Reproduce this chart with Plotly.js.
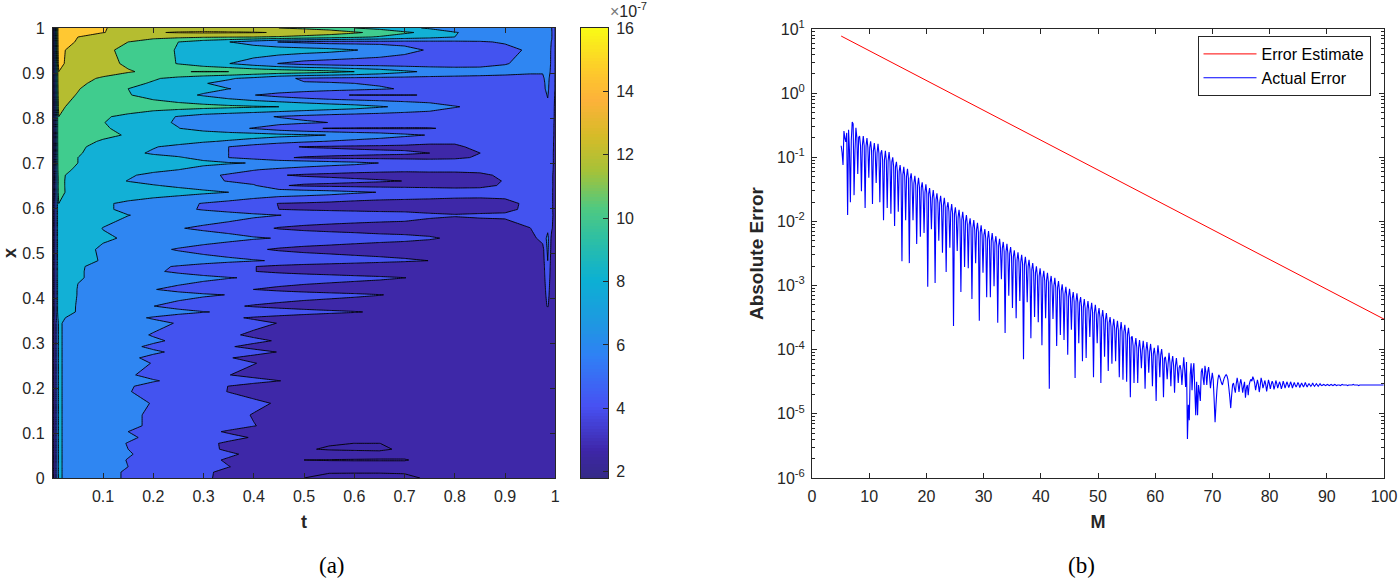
<!DOCTYPE html>
<html><head><meta charset="utf-8">
<script src="https://cdn.plot.ly/plotly-3.0.1.min.js"></script>
<style>html,body{margin:0;padding:0;background:#fff}#chart{width:1399px;height:578px}</style>
</head><body><div id="chart"></div>
<script>
// ---------- panel (a): surface values in units of 1e-7 ----------
const contourT=[0,.012,.025,.05,.1,.15,.2,.25,.3,.35,.4,.45,.5,.55,.6,.65,.7,.75,.8,.85,.9,.95,.975,.985,.993,1];
const contourX=[0,.013,.025,.04,.053,.064,.077,.09,.103,.116,.14,.166,.192,.204,.216,.229,.255,.267,.28,.292,.305,.318,.344,.356,.369,.382,.407,.419,.445,.459,.47,.483,.508,.533,.555,.584,.597,.61,.635,.65,.66,.673,.685,.70,.712,.722,.736,.748,.762,.777,.79,.803,.825,.851,.865,.877,.888,.903,.921,.951,.969,.98,.99,1];
const contourZ=[
[1,8.4,7.6,7.0,6.4,5.84,5.28,4.73,4.17,3.7,3.2,2.7,2.0,1.92,1.9,1.9,1.92,2.05,2.3,2.4,2.5,2.6,2.6,2.6,2.5,2.3],
[1,8.4,7.6,7.0,6.4,5.84,5.3,4.75,4.2,3.7,3.25,2.75,2.15,2.02,2.02,2.02,2.03,2.1,2.3,2.4,2.5,2.6,2.6,2.6,2.5,2.3],
[1,8.4,7.6,7.2,6.6,6.0,5.5,5.0,4.5,4.03,3.6,3.1,2.5,2.2,2.15,2.15,2.15,2.2,2.35,2.45,2.55,2.65,2.7,2.7,2.5,2.3],
[1,8.4,7.6,7.1,6.5,5.95,5.45,4.9,4.35,3.85,3.35,2.8,2.0,1.98,1.98,1.98,1.98,2.1,2.3,2.4,2.5,2.6,2.65,2.7,2.5,2.3],
[1,8.4,7.6,7.2,6.7,6.1,5.6,5.1,4.65,4.2,3.7,3.2,2.7,2.3,2.15,2.1,2.1,2.2,2.35,2.45,2.55,2.65,2.7,2.7,2.5,2.3],
[1,8.4,7.6,7.1,6.6,6.0,5.45,4.9,4.35,3.8,3.3,2.8,2.05,1.95,1.95,1.95,2.05,2.15,2.3,2.4,2.5,2.6,2.65,2.7,2.5,2.3],
[1,8.4,7.6,7.1,6.5,5.95,5.4,4.85,4.3,3.8,3.35,2.9,2.3,2.04,1.998,1.998,2.06,2.2,2.35,2.45,2.55,2.65,2.7,2.7,2.5,2.3],
[1,8.4,7.6,7.3,6.75,6.2,5.7,5.25,4.8,4.35,3.9,3.5,3.1,2.7,2.4,2.3,2.3,2.3,2.4,2.5,2.6,2.7,2.75,2.8,2.6,2.3],
[1,8.4,7.6,7.1,6.5,6.0,5.45,4.9,4.35,3.85,3.4,2.95,2.6,2.4,2.3,2.25,2.25,2.3,2.4,2.5,2.6,2.7,2.75,2.8,2.6,2.3],
[1,8.4,7.6,7.2,6.7,6.25,5.8,5.36,4.92,4.48,4.04,3.65,3.2,2.8,2.5,2.35,2.3,2.3,2.4,2.5,2.6,2.7,2.75,2.8,2.6,2.3],
[1,8.4,7.6,7.2,6.7,6.25,5.8,5.3,4.85,4.4,3.93,3.5,3.1,2.7,2.45,2.35,2.3,2.3,2.4,2.5,2.6,2.7,2.75,2.8,2.6,2.3],
[1,8.4,7.6,7.3,6.9,6.4,5.93,5.5,5.1,4.7,4.3,3.85,3.4,3.0,2.6,2.4,2.3,2.3,2.4,2.5,2.6,2.7,2.75,2.8,2.6,2.3],
[1,8.4,7.6,7.3,6.6,6.07,5.55,5.0,4.5,3.96,3.5,3.0,2.7,2.5,2.35,2.3,2.25,2.3,2.4,2.5,2.6,2.7,2.75,2.8,2.6,2.3],
[1,8.4,7.6,7.3,6.7,6.13,5.6,5.05,4.55,3.98,3.5,3.0,2.7,2.5,2.35,2.3,2.25,2.3,2.4,2.5,2.6,2.7,2.75,2.8,2.6,2.3],
[1,8.4,7.6,7.4,7.0,6.55,6.1,5.7,5.25,4.85,4.45,4.03,3.6,3.2,2.8,2.5,2.35,2.3,2.4,2.5,2.6,2.7,2.75,2.8,2.6,2.3],
[1,8.4,7.6,7.3,6.7,6.15,5.65,5.1,4.55,4.03,3.6,3.15,2.8,2.55,2.4,2.3,2.25,2.3,2.4,2.5,2.6,2.7,2.75,2.8,2.6,2.3],
[1,8.4,7.6,7.4,6.9,6.4,5.95,5.45,5.0,4.5,4.05,3.6,3.2,2.85,2.6,2.4,2.3,2.3,2.4,2.5,2.6,2.7,2.75,2.8,2.6,2.3],
[1,8.4,7.6,7.3,6.8,6.25,5.7,5.15,4.6,4.08,3.6,3.1,2.8,2.55,2.4,2.3,2.25,2.3,2.4,2.5,2.6,2.7,2.75,2.8,2.6,2.3],
[1,8.4,7.6,7.4,7.0,6.65,6.2,5.75,5.3,4.85,4.45,3.95,3.5,3.1,2.8,2.5,2.35,2.3,2.4,2.5,2.6,2.7,2.75,2.8,2.6,2.3],
[1,8.4,7.6,7.3,6.8,6.3,5.75,5.2,4.65,4.13,3.6,3.1,2.8,2.55,2.4,2.3,2.25,2.3,2.4,2.5,2.6,2.7,2.75,2.8,2.6,2.3],
[1,8.4,7.6,7.4,7.0,6.65,6.22,5.75,5.3,4.8,4.35,3.85,3.4,3.0,2.7,2.5,2.35,2.3,2.4,2.5,2.6,2.7,2.75,2.8,2.6,2.3],
[1,8.4,7.6,7.4,6.9,6.45,5.9,5.35,4.85,4.27,3.7,3.2,2.9,2.65,2.45,2.35,2.3,2.3,2.4,2.5,2.6,2.7,2.75,2.8,2.6,2.3],
[1,8.4,7.6,7.4,7.1,6.8,6.4,5.9,5.4,4.95,4.45,3.95,3.5,3.1,2.8,2.5,2.35,2.3,2.4,2.5,2.6,2.7,2.75,2.8,2.6,2.3],
[1,9.2,8.0,7.4,6.9,6.4,5.85,5.35,4.85,4.3,3.8,3.4,3.0,2.7,2.5,2.4,2.3,2.3,2.4,2.5,2.6,2.7,2.75,2.8,2.6,2.3],
[1,9.7,8.4,7.9,7.5,7.1,6.8,6.45,6.08,5.75,5.45,5.1,4.8,4.45,4.15,3.7,3.2,2.8,2.4,2.5,2.6,2.7,2.75,3.0,2.6,2.3],
[1,9.7,8.9,7.8,7.1,6.6,6.02,5.5,4.9,4.35,3.8,3.4,3.0,2.75,2.55,2.45,2.4,2.4,2.45,2.55,2.65,2.8,3.0,4.2,2.8,2.4],
[1,9.7,9.2,7.9,7.55,7.2,6.9,6.55,6.25,5.95,5.65,5.3,5.0,4.7,4.4,4.08,3.6,3.1,2.7,2.6,2.7,2.85,3.0,4.6,2.8,2.4],
[1,9.7,9.3,7.9,7.2,6.65,6.07,5.55,5.0,4.5,3.99,3.5,3.1,2.85,2.7,2.55,2.45,2.45,2.5,2.6,2.7,2.85,3.0,4.8,2.8,2.4],
[1,9.7,9.5,8.1,7.7,7.4,7.1,6.8,6.45,6.1,5.8,5.5,5.2,4.9,4.6,4.35,4.03,3.5,3.0,2.7,2.75,2.9,3.1,5.2,2.9,2.4],
[1,9.7,9.6,8.2,7.4,6.9,6.25,5.7,5.2,4.6,4.05,3.55,3.2,3.0,2.8,2.65,2.55,2.5,2.55,2.65,2.75,2.9,3.1,5.5,2.9,2.4],
[1,9.7,9.6,8.2,7.5,7.0,6.35,5.85,5.3,4.7,4.05,3.55,3.2,3.0,2.8,2.65,2.55,2.5,2.55,2.65,2.75,2.9,3.1,5.7,2.9,2.4],
[1,9.8,9.6,8.8,7.8,7.6,7.3,7.05,6.8,6.5,6.15,5.8,5.5,5.2,4.9,4.6,4.3,3.98,3.4,2.9,2.8,2.95,3.2,6.0,3.0,2.4],
[1,9.8,9.6,8.7,7.7,7.2,6.4,5.85,5.35,4.8,4.3,3.75,3.4,3.2,3.0,2.9,2.8,2.7,2.7,2.75,2.8,3.0,3.4,6.4,3.2,2.5],
[1,9.8,9.6,9.0,8.25,7.8,7.5,7.2,6.9,6.6,6.2,5.9,5.6,5.3,5.0,4.7,4.5,4.2,3.7,3.3,3.1,3.4,4.6,6.6,3.4,2.6],
[1,9.8,9.6,9.1,7.95,7.4,6.8,6.1,5.7,5.3,4.6,3.85,3.5,3.3,3.2,3.1,3.1,3.1,3.2,3.3,3.5,3.98,4.5,5.5,4.2,3.0],
[1,9.8,9.6,9.4,8.7,8.03,7.7,7.35,7.0,6.7,6.35,6.02,5.8,5.5,5.2,5.0,4.8,4.3,4.1,4.2,4.2,4.5,4.8,5.5,4.4,3.2],
[1,9.8,9.6,9.3,8.3,7.6,7.0,6.4,5.85,5.4,4.9,4.0,3.75,3.6,3.5,3.4,3.4,3.4,3.4,3.5,3.7,4.3,4.6,4.8,4.3,3.2],
[1,10.0,9.7,9.5,8.3,7.6,7.0,6.5,5.9,5.4,4.7,3.95,3.8,3.6,3.3,3.1,3.1,3.1,3.1,3.2,3.5,4.4,4.6,4.8,4.3,3.2],
[1,11.0,9.95,9.8,9.6,9.3,9.0,8.7,8.35,8.0,7.6,7.3,7.0,6.7,6.3,5.95,5.6,5.3,5.0,4.8,4.7,4.9,5.1,5.0,4.3,3.2],
[1,11.0,9.9,9.6,9.0,8.5,8.1,7.7,7.3,6.8,6.2,4.2,3.7,3.6,3.5,3.4,3.4,3.4,3.4,3.6,4.2,4.7,4.9,4.9,4.3,3.3],
[1,11.0,9.9,9.5,8.6,7.95,7.5,7.0,6.5,5.9,5.3,5.0,4.75,4.5,4.3,4.15,3.98,3.6,3.5,3.7,4.05,4.6,4.9,4.9,4.3,3.3],
[1,11.2,10.0,9.6,8.8,8.2,7.6,7.1,6.4,5.8,5.2,4.1,3.8,3.7,3.6,3.5,3.5,3.6,3.6,3.7,4.3,4.8,5.0,5.0,4.3,3.3],
[1,11.5,10.2,9.8,9.2,8.8,8.4,8.0,7.3,6.7,6.1,5.6,5.1,4.7,4.5,4.4,4.3,4.3,4.3,4.4,4.6,4.9,5.0,5.0,4.4,3.4],
[1,11.7,10.6,10.0,9.5,9.25,9.0,8.75,8.5,8.2,7.9,7.6,7.3,6.9,6.5,5.98,5.5,5.2,5.0,4.9,4.9,5.1,5.2,5.1,4.5,3.4],
[1,11.7,10.7,10.0,9.3,8.9,8.5,8.2,7.4,6.0,5.3,4.3,3.8,3.6,3.5,3.5,3.5,3.5,3.7,4.2,4.8,5.1,5.2,5.1,4.5,3.4],
[1,11.8,10.9,10.2,9.1,8.4,7.8,7.3,6.6,6.0,5.6,5.2,4.9,4.7,4.5,4.3,4.2,4.0,3.7,3.99,4.7,5.1,5.2,5.1,4.5,3.4],
[1,11.8,11.0,10.3,9.4,8.8,8.1,7.6,6.9,6.0,5.2,4.4,3.9,3.8,3.7,3.7,3.7,3.7,3.8,4.3,4.9,5.2,5.3,5.2,4.5,3.5],
[1,11.9,11.2,10.6,9.8,9.4,9.0,8.6,8.2,7.8,7.3,6.8,6.3,5.9,5.5,5.1,4.7,4.3,4.2,4.4,4.9,5.2,5.3,5.2,4.5,3.5],
[1,11.9,11.4,11.0,10.4,9.85,9.6,9.4,9.2,9.0,8.8,8.5,8.3,7.95,7.4,7.0,6.4,5.9,5.4,5.2,5.1,5.3,5.5,5.4,4.6,3.6],
[1,11.95,11.4,11.0,10.2,9.5,8.9,8.05,7.2,6.5,5.9,5.0,4.3,3.9,3.85,3.85,3.85,3.9,4.3,4.8,5.0,5.3,5.5,5.5,4.6,3.6],
[1,11.95,11.5,11.2,10.05,9.4,8.5,7.8,7.4,7.2,6.9,6.6,6.3,5.98,5.7,5.4,5.1,4.9,4.8,4.8,5.0,5.3,5.5,5.6,4.7,3.6],
[1,12.0,11.6,11.3,10.2,9.6,8.7,7.9,7.2,6.8,6.4,5.9,5.5,5.2,5.0,4.9,4.8,4.8,4.9,5.0,5.1,5.3,5.5,5.6,4.7,3.7],
[1,12.8,12.0,11.6,11.2,11.0,10.9,10.8,10.6,10.4,10.2,10.0,9.6,9.2,8.8,8.2,7.6,7.0,6.1,5.6,5.4,5.5,5.5,5.7,4.8,3.7],
[1,13.3,12.4,11.9,10.8,10.1,9.4,8.6,7.8,6.9,6.05,5.3,4.7,4.2,3.95,3.95,3.95,4.05,4.5,5.0,5.3,5.5,5.5,6.1,4.9,3.8],
[1,13.5,12.6,12.1,11.0,10.0,9.6,9.0,8.6,8.03,7.7,7.4,7.1,6.8,6.5,6.2,5.85,5.6,5.4,5.3,5.4,5.5,5.7,6.3,5.0,3.9],
[1,13.7,12.9,12.3,11.5,10.5,9.8,9.0,8.1,7.5,6.9,6.3,6.1,6.1,6.0,5.8,5.6,5.5,5.4,5.3,5.3,5.5,5.7,6.4,5.0,3.9],
[1,13.8,13.0,12.5,11.8,11.0,10.2,9.5,8.8,8.2,7.5,6.4,5.8,5.6,5.5,5.4,5.4,5.4,5.4,5.4,5.4,5.6,5.8,6.5,5.1,3.9],
[1,14.0,13.5,13.2,12.6,12.15,11.6,11.9,12.1,12.0,11.6,11.3,11.0,10.6,10.0,9.3,8.4,7.6,7.2,6.9,6.6,6.2,6.1,6.6,5.6,3.9],
[1,15.0,13.8,13.2,12.6,11.7,10.9,9.9,8.9,8.05,7.0,5.95,5.3,5.0,4.8,4.8,4.8,4.9,5.0,5.3,5.9,6.5,6.6,6.5,5.8,3.9],
[1,15.5,14.0,13.6,12.5,11.4,10.5,9.9,9.7,9.5,9.4,9.2,8.9,8.6,8.1,7.4,6.6,5.8,5.3,5.2,5.4,6.3,6.7,6.6,5.8,3.9],
[1,15.7,14.6,13.8,13.0,12.0,10.8,10.0,9.0,8.05,7.0,5.95,5.6,5.3,5.3,5.4,5.4,5.5,5.6,5.8,6.2,6.7,6.8,6.7,5.9,3.9],
[1,15.9,15.0,14.0,13.4,13.0,12.7,12.4,12.2,12.1,12.0,11.8,11.3,10.9,10.4,9.8,9.1,8.6,8.0,7.4,7.2,7.0,7.0,6.9,6.1,3.9],
[1,16.0,15.3,14.6,14.03,13.7,13.9,14.1,14.2,14.15,14.1,13.9,13.6,13.0,12.3,11.4,10.3,9.5,8.1,7.4,7.2,7.0,7.0,6.9,6.1,3.9],
[1,16.0,15.5,14.7,14.1,13.5,13.4,13.3,13.2,13.1,12.6,12.0,11.6,11.2,10.0,9.4,8.6,7.7,7.1,6.9,6.9,6.9,6.9,6.9,6.0,3.9]
];
const contourLevels={start:2,end:16,size:2};
const bandColors=['#3b27a6','#3e28a8','#4353f0','#2f86f2','#12b0d6','#40cc8e','#b5bd30','#ffc832','#f9fb15'];
const colorbarTicks=[2,4,6,8,10,12,14,16];
const parulaStops=[[0,'#352a87'],[.06,'#3e26a8'],[.16,'#4751f3'],[.27,'#2f80f5'],[.34,'#1f97e2'],[.44,'#0cb0d3'],[.53,'#2dbfa4'],[.6,'#50c980'],[.68,'#a4c239'],[.76,'#d6bb28'],[.84,'#fdb23a'],[.9,'#fdc82c'],[1,'#f9fb15']];

// ---------- panel (b) ----------
const estimateM=[5.1,20,40,60,80,100];
const estimateErr=[7.76,1.58,0.185,0.0218,2.57e-3,3.0e-4];
// log10 of the actual error, sampled every actualStepM starting at actualStartM
const actualStartM=5.1, actualStepM=0.161;
const actualLog10=[
-.82,-.93,-1.12,-.59,-.70,-.76,-.62,-1.90,-.57,-.89,-1.70,-.73,-.45,-.48,-1.59,-.89,
-.54,-.69,-1.26,-.69, -.67,-.82,-1.53,-.82, -.67,-.82,-1.79,-.82, -.70,-.85,-1.32,-.85,
-.75,-.90,-1.73,-.90, -.78,-.93,-1.40,-.93, -.79,-.94,-1.70,-.94, -.89,-1.04,-1.98,-1.04,
-.90,-1.05,-1.79,-1.05, -.92,-1.07,-1.88,-1.07, -1.00,-1.15,-2.07,-1.15, -1.07,-1.22,-1.85,-1.22,
-1.12,-1.27,-2.62,-1.27, -1.15,-1.30,-1.98,-1.30, -1.18,-1.33,-2.65,-1.33, -1.25,-1.40,-1.98,-1.40,
-1.29,-1.44,-2.35,-1.44, -1.32,-1.47,-2.24,-1.47, -1.39,-1.54,-2.18,-1.54, -1.42,-1.57,-3.02,-1.57,
-1.48,-1.63,-2.12,-1.63, -1.51,-1.66,-2.96,-1.66, -1.56,-1.71,-2.30,-1.71, -1.60,-1.75,-2.49,-1.75,
-1.63,-1.78,-2.79,-1.78, -1.70,-1.85,-2.41,-1.85, -1.73,-1.88,-3.63,-1.88, -1.78,-1.93,-2.46,-1.93,
-1.82,-1.97,-3.10,-1.97, -1.85,-2.00,-2.71,-2.00, -1.90,-2.05,-2.73,-2.05, -1.95,-2.10,-3.21,-2.10,
-1.98,-2.13,-2.65,-2.13, -2.02,-2.17,-3.55,-2.17, -2.06,-2.21,-2.80,-2.21, -2.12,-2.27,-3.18,-2.27,
-2.15,-2.30,-3.18,-2.30, -2.18,-2.33,-3.01,-2.33, -2.23,-2.38,-3.58,-2.38, -2.27,-2.42,-2.90,-2.42,
-2.32,-2.47,-3.74,-2.47, -2.35,-2.50,-3.16,-2.50, -2.40,-2.55,-3.35,-2.55, -2.45,-2.60,-3.51,-2.60,
-2.48,-2.63,-3.24,-2.63, -2.52,-2.67,-4.15,-2.67, -2.55,-2.70,-3.26,-2.70, -2.60,-2.75,-3.82,-2.75,
-2.65,-2.80,-3.49,-2.80, -2.70,-2.85,-3.57,-2.85, -2.73,-2.88,-3.93,-2.88, -2.77,-2.92,-3.51,-2.92,
-2.80,-2.95,-4.61,-2.95, -2.85,-3.00,-3.52,-3.00, -2.88,-3.03,-3.94,-3.03, -2.93,-3.08,-3.77,-3.08,
-2.98,-3.13,-3.85,-3.13, -3.02,-3.17,-4.08,-3.17, -3.05,-3.20,-3.69,-3.20, -3.10,-3.25,-4.44,-3.25,
-3.12,-3.27,-3.90,-3.27, -3.18,-3.33,-4.18,-3.33, -3.21,-3.36,-4.13,-3.36, -3.24,-3.39,-3.80,-3.39,
-3.27,-3.42,-4.43,-3.42, -3.30,-3.45,-3.90,-3.45, -3.35,-3.50,-4.52,-3.50, -3.38,-3.53,-4.11,-3.53,
-3.43,-3.58,-4.33,-3.58, -3.49,-3.64,-4.22,-3.64, -3.52,-3.67,-4.18,-3.67, -3.55,-3.70,-4.43,-3.70,
-3.57,-3.72,-4.47,-3.72, -3.61,-3.76,-4.50,-3.76, -3.66,-3.81,-4.74,-3.81, -3.79,-3.94,-4.52,-3.94,
-3.82,-3.97,-4.52,-3.97, -3.85,-4.00,-4.29,-4.00, -3.86,-4.01,-4.61,-4.01, -3.88,-4.03,-4.36,-4.03,
-3.91,-4.06,-4.57,-4.06, -3.97,-4.10,-4.80,-4.10, -3.93,-4.08,-4.43,-4.08, -3.99,-4.14,-4.74,-4.14,
-4.11,-4.22,-4.46,-4.22, -4.05,-4.20,-4.57,-4.20, -4.10,-4.25,-4.67,-4.25, -4.13,-4.28,-4.52,-4.28,
-4.24,-4.32,-4.55,-4.32, -4.12,-4.32,-4.58,-4.19,
-5.39,-4.86,-5.10,-4.39,-4.21,-4.63,-4.32,-4.21,-4.63,-5.02,-4.50,-5.02,-4.55,-4.66,-4.80,-4.35,
-4.29,-4.44,-4.55,-4.25,-4.35,-4.55,-4.35,-4.27,-4.41,-4.60,-4.47,-4.36,-4.47,-4.78,-5.13,-4.86,
-4.63,-4.47,-4.39,-4.42,-4.47,-4.52,-4.55,-4.49,-4.44,-4.41,-4.39,-4.41,-4.47,-4.60,-4.74,-4.91,
-4.71,-4.55,-4.52,-4.60,-4.67,-4.53,-4.44,-4.53,-4.66,-4.53,-4.46,-4.55,-4.67,-4.57,-4.50,-4.75,
-4.60,-4.55,-4.71,-4.55,-4.49,-4.46,-4.49,-4.42,
-4.46,-4.52,-4.63,-4.55,-4.47,-4.54,-4.66,-4.56,-4.44,-4.50,-4.60,-4.55,-4.48,-4.54,-4.65,-4.56,-4.47,-4.53,-4.61,-4.54,
-4.49,-4.53,-4.62,-4.56,-4.48,-4.53,-4.60,-4.55,-4.50,-4.54,-4.61,-4.56,-4.49,-4.54,-4.60,-4.55,
-4.50,-4.54,-4.59,-4.55,-4.50,-4.54,-4.60,-4.55,-4.51,-4.55,-4.58,-4.55,-4.51,-4.54,-4.59,-4.55,
-4.52,-4.55,-4.58,-4.55,-4.51,-4.55,-4.58,-4.55,-4.53,-4.55,-4.57,-4.55,-4.52,-4.55,-4.57,-4.55,
-4.53,-4.55,-4.57,-4.55,-4.53,-4.55,-4.56,-4.55,-4.54,-4.55,-4.56,-4.55,-4.54,-4.55,-4.56,-4.55,
-4.54,-4.55,-4.56,-4.55,-4.54,-4.55,-4.56,-4.55,-4.55,-4.55,-4.56,-4.55,-4.54,-4.55,-4.55,-4.55,
-4.55,-4.55,-4.56,-4.55,-4.55,-4.55,-4.55,-4.55,-4.54,-4.55,-4.55,-4.55,-4.55,-4.55,-4.56,-4.55,
-4.55,-4.55,-4.55,-4.55,-4.55,-4.55,-4.55,-4.55,-4.55,-4.55,-4.55,-4.55,-4.55,-4.55,-4.55,-4.55,
-4.55,-4.55,-4.55,-4.55,-4.55,-4.55,-4.55,-4.55,-4.55,-4.55
];
const yTickVals=[1e-6,1e-5,1e-4,1e-3,1e-2,1e-1,1,10];
const yTickText=['10<sup>-6</sup>','10<sup>-5</sup>','10<sup>-4</sup>','10<sup>-3</sup>','10<sup>-2</sup>','10<sup>-1</sup>','10<sup>0</sup>','10<sup>1</sup>'];

// ---------- drawing ----------
const W=1399,H=578;
const fx=(a,b)=>[a/W,b/W], fy=(top,bot)=>[(H-bot)/H,(H-top)/H];
const inkAxis='#262626';
const font={family:'"Liberation Sans",Arial,sans-serif',size:16,color:'#262626'};
const axisBase={showgrid:false,zeroline:false,showline:true,linecolor:inkAxis,linewidth:1,mirror:'allticks',ticks:'inside',ticklen:5,tickcolor:inkAxis,tickwidth:1,tickfont:font};

const bandScale=bandColors.map((c,i)=>[i/(bandColors.length-1),c]);
const contour={type:'contour',x:contourT,y:contourX,z:contourZ,xaxis:'x',yaxis:'y',
  autocontour:false,contours:{coloring:'fill',showlines:true,start:contourLevels.start,end:contourLevels.end,size:contourLevels.size},
  line:{color:'#000',width:0.9,smoothing:0},colorscale:bandScale,showscale:false,showlegend:false,hoverinfo:'skip'};

const cbLevels=[];for(let v=1.8;v<=16.05;v+=0.1)cbLevels.push(+v.toFixed(1));
const colorbar={type:'heatmap',x:[0,1],y:cbLevels,z:cbLevels.map(v=>[v,v]),xaxis:'x3',yaxis:'y3',zmin:1.8,zmax:16,
  colorscale:parulaStops,showscale:false,showlegend:false,hoverinfo:'skip'};

const estimate={type:'scatter',mode:'lines',name:'Error Estimate',x:estimateM,y:estimateErr,xaxis:'x2',yaxis:'y2',line:{color:'#ff0000',width:1}};
const actual={type:'scatter',mode:'lines',name:'Actual Error',
  x:actualLog10.map((_,i)=>actualStartM+actualStepM*i),y:actualLog10.map(v=>Math.pow(10,v)),xaxis:'x2',yaxis:'y2',line:{color:'#0000ff',width:1.1,simplify:false}};

const minorVals=[];yTickVals.slice(0,-1).forEach(d=>{for(let k=2;k<10;k++)minorVals.push(d*k);});
const title=(t,s)=>({text:'<b>'+t+'</b>',font:{family:font.family,size:s,color:'#262626'}});

const layout={width:W,height:H,margin:{l:0,r:0,t:0,b:0},paper_bgcolor:'#fff',plot_bgcolor:'#fff',font:font,showlegend:true,
 xaxis:{...axisBase,domain:fx(52.75,555.25),range:[0,1],ticklabelstandoff:4,tickvals:[.1,.2,.3,.4,.5,.6,.7,.8,.9,1],ticktext:['0.1','0.2','0.3','0.4','0.5','0.6','0.7','0.8','0.9','1'],anchor:'y',title:{...title('t',18),standoff:11}},
 yaxis:{...axisBase,domain:fy(28,478),range:[0,1],ticklabelstandoff:4,tickvals:[0,.1,.2,.3,.4,.5,.6,.7,.8,.9,1],ticktext:['0','0.1','0.2','0.3','0.4','0.5','0.6','0.7','0.8','0.9','1'],anchor:'x',title:{...title('x',18),standoff:8}},
 xaxis3:{...axisBase,domain:fx(581,608),range:[0,1],showticklabels:false,ticks:'',anchor:'y3',fixedrange:true},
 yaxis3:{...axisBase,domain:fy(28,478),range:[1.8,16],side:'right',mirror:true,ticklabelstandoff:4,tickvals:colorbarTicks,ticktext:colorbarTicks.map(String),anchor:'x3'},
 xaxis2:{...axisBase,domain:fx(812,1384),range:[0,100],ticklabelstandoff:4,tickvals:[0,10,20,30,40,50,60,70,80,90,100],ticktext:['0','10','20','30','40','50','60','70','80','90','100'],anchor:'y2',title:{...title('M',18),standoff:11}},
 yaxis2:{...axisBase,type:'log',domain:fy(29,478),range:[-6,1],ticklabelstandoff:3,tickmode:'array',tickvals:yTickVals,ticktext:yTickText,anchor:'x2',
   minor:{ticks:'inside',ticklen:3,tickcolor:inkAxis,tickwidth:1,tickmode:'array',tickvals:minorVals},title:{...title('Absolute Error',19),standoff:8}},
 legend:{x:1370.5/W,xanchor:'right',y:(H-36)/H,yanchor:'top',bgcolor:'#fff',bordercolor:'#262626',borderwidth:1,font:{...font,color:'#000'},itemwidth:53,tracegroupgap:0,traceorder:'normal'},
 annotations:[
  {xref:'paper',yref:'paper',x:608/W,y:(H-10)/H,xanchor:'left',yanchor:'middle',showarrow:false,text:'<span style="color:#777">×</span>10<sup>-7</sup>',font:{...font,size:16}},
  {xref:'paper',yref:'paper',x:332/W,y:(H-565)/H,xanchor:'center',yanchor:'middle',showarrow:false,text:'(a)',font:{family:'"Liberation Serif",serif',size:23,color:'#000'}},
  {xref:'paper',yref:'paper',x:1081/W,y:(H-565)/H,xanchor:'center',yanchor:'middle',showarrow:false,text:'(b)',font:{family:'"Liberation Serif",serif',size:23,color:'#000'}}
 ]};
Plotly.newPlot('chart',[contour,colorbar,estimate,actual],layout,{staticPlot:true,displayModeBar:false});
</script></body></html>
